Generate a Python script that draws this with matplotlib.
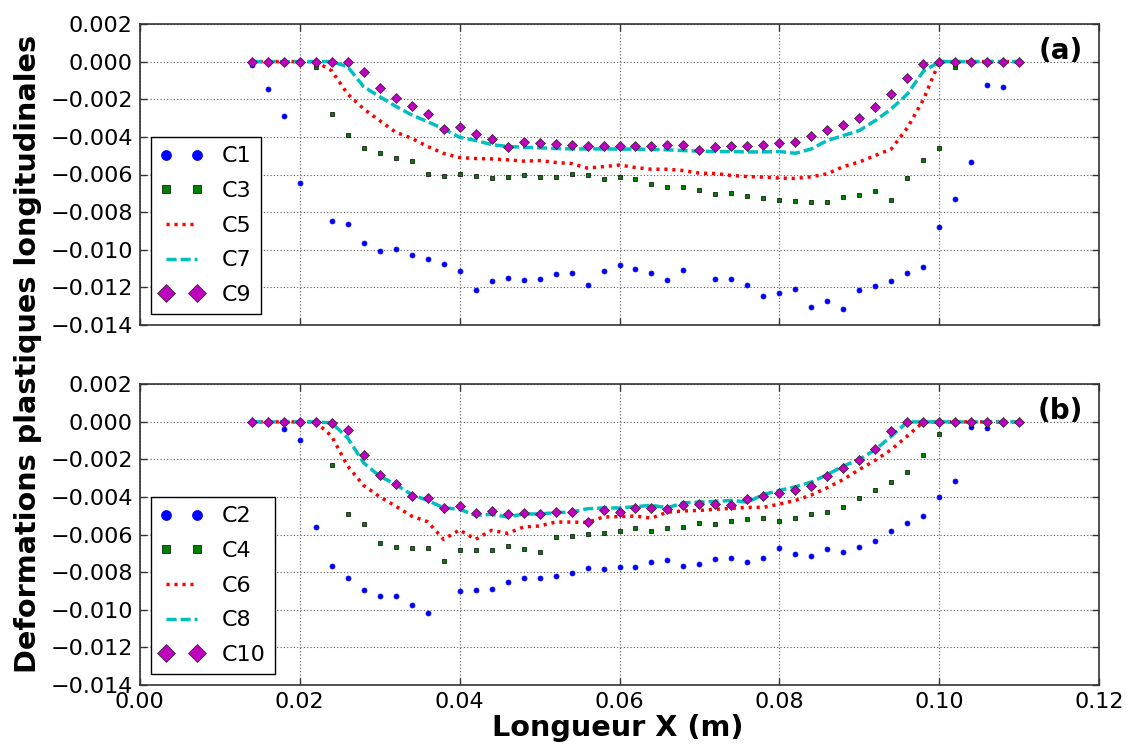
import numpy as np
import matplotlib
matplotlib.use("Agg")
import matplotlib.pyplot as plt

nan = np.nan

# Positions along the specimen (m)
x = [0.014, 0.016, 0.018, 0.020, 0.022, 0.024, 0.026, 0.028, 0.030, 0.032,
     0.034, 0.036, 0.038, 0.040, 0.042, 0.044, 0.046, 0.048, 0.050, 0.052,
     0.054, 0.056, 0.058, 0.060, 0.062, 0.064, 0.066, 0.068, 0.070, 0.072,
     0.074, 0.076, 0.078, 0.080, 0.082, 0.084, 0.086, 0.088, 0.090, 0.092,
     0.094, 0.096, 0.098, 0.100, 0.102, 0.104, 0.106, 0.108, 0.110]

# Panel (a)
C1 = [-0.00018, -0.00145, -0.00290, -0.00646, nan, -0.00848, -0.00865, -0.00966, -0.01007, -0.00998,
      -0.01028, -0.01050, -0.01076, -0.01115, -0.01212, -0.01168, -0.01150, -0.01159, -0.01156, -0.01129,
      -0.01124, -0.01186, -0.01112, -0.01080, -0.01103, -0.01124, -0.01159, -0.01106, nan, -0.01156,
      -0.01156, -0.01186, -0.01244, -0.01230, -0.01209, -0.01304, -0.01274, -0.01313, -0.01212, -0.01191,
      -0.01168, -0.01126, -0.01090, -0.00880, -0.00729, -0.00533, -0.00124, -0.00136, nan]
C3 = [0.0, 0.0, 0.0, 0.0, -0.00030, -0.00276, -0.00391, -0.00460, -0.00488, -0.00513,
      -0.00527, -0.00598, -0.00607, -0.00598, -0.00607, -0.00619, -0.00611, -0.00605, -0.00614, -0.00614,
      -0.00598, -0.00605, -0.00623, -0.00611, -0.00623, -0.00650, -0.00664, -0.00667, -0.00685, -0.00703,
      -0.00699, -0.00715, -0.00724, -0.00733, -0.00742, -0.00747, -0.00747, -0.00720, -0.00708, -0.00690,
      -0.00738, -0.00619, -0.00522, -0.00458, -0.00030, 0.0, 0.0, 0.0, 0.0]
C5 = [0.0, 0.0, 0.0, 0.0, 0.0, -0.00048, -0.00172, -0.00251, -0.00313, -0.00375,
      -0.00407, -0.00451, -0.00488, -0.00510, -0.00515, -0.00517, -0.00522, -0.00529, -0.00526, -0.00536,
      -0.00542, -0.00566, -0.00558, -0.00550, -0.00563, -0.00572, -0.00572, -0.00579, -0.00593, -0.00595,
      -0.00605, -0.00611, -0.00614, -0.00619, -0.00621, -0.00612, -0.00596, -0.00558, -0.00533, -0.00499,
      -0.00464, -0.00352, -0.00202, 0.0, 0.0, 0.0, 0.0, 0.0, 0.0]
C7 = [0.0, 0.0, 0.0, 0.0, 0.0, 0.0, -0.00027, -0.00133, -0.00186, -0.00237,
      -0.00283, -0.00319, -0.00358, -0.00402, -0.00419, -0.00441, -0.00451, -0.00455, -0.00458, -0.00462,
      -0.00464, -0.00464, -0.00464, -0.00465, -0.00465, -0.00467, -0.00469, -0.00473, -0.00476, -0.00478,
      -0.00478, -0.00480, -0.00480, -0.00478, -0.00487, -0.00464, -0.00419, -0.00393, -0.00366, -0.00313,
      -0.00251, -0.00172, -0.00051, 0.0, 0.0, 0.0, 0.0, 0.0, 0.0]
C9 = [0.0, 0.0, 0.0, 0.0, 0.0, 0.0, 0.0, -0.00053, -0.00142, -0.00193,
      -0.00237, -0.00281, -0.00356, -0.00350, -0.00386, -0.00412, -0.00453, -0.00425, -0.00435, -0.00439,
      -0.00442, -0.00448, -0.00448, -0.00448, -0.00448, -0.00448, -0.00442, -0.00442, -0.00469, -0.00453,
      -0.00448, -0.00448, -0.00444, -0.00434, -0.00425, -0.00396, -0.00365, -0.00335, -0.00299, -0.00242,
      -0.00172, -0.00085, -0.00014, 0.0, 0.0, 0.0, 0.0, 0.0, 0.0]

# Panel (b)
C2 = [0.0, 0.0, -0.00037, -0.00097, -0.00559, -0.00765, -0.00832, -0.00896, -0.00927, -0.00927,
      -0.00975, -0.01016, nan, -0.00901, -0.00892, -0.00888, -0.00853, -0.00832, -0.00832, -0.00818,
      -0.00804, -0.00779, -0.00782, -0.00770, -0.00770, -0.00747, -0.00735, -0.00765, -0.00756, -0.00731,
      -0.00722, -0.00747, -0.00722, -0.00669, -0.00704, -0.00712, -0.00678, -0.00690, -0.00664, -0.00634,
      -0.00582, -0.00538, -0.00503, -0.00398, -0.00317, -0.00027, -0.00030, 0.0, 0.0]
C4 = [0.0, 0.0, 0.0, 0.0, 0.0, -0.00230, -0.00488, -0.00542, -0.00642, -0.00667,
      -0.00673, -0.00673, -0.00738, -0.00681, -0.00681, -0.00681, -0.00662, -0.00676, -0.00694, -0.00614,
      -0.00605, -0.00598, -0.00593, -0.00581, -0.00566, -0.00581, -0.00566, -0.00561, -0.00540, -0.00543,
      -0.00527, -0.00517, -0.00510, -0.00527, -0.00510, -0.00488, -0.00480, -0.00453, -0.00405, -0.00365,
      -0.00320, -0.00264, -0.00177, -0.00065, 0.0, 0.0, 0.0, 0.0, 0.0]
C6 = [0.0, 0.0, 0.0, 0.0, 0.0, -0.00076, -0.00235, -0.00338, -0.00398, -0.00448,
      -0.00501, -0.00531, -0.00625, -0.00575, -0.00625, -0.00577, -0.00593, -0.00559, -0.00554, -0.00533,
      -0.00533, -0.00535, -0.00506, -0.00504, -0.00501, -0.00512, -0.00480, -0.00474, -0.00471, -0.00465,
      -0.00460, -0.00455, -0.00455, -0.00437, -0.00418, -0.00389, -0.00350, -0.00306, -0.00253, -0.00204,
      -0.00147, -0.00075, 0.0, 0.0, 0.0, 0.0, 0.0, 0.0, 0.0]
C8 = [0.0, 0.0, 0.0, 0.0, 0.0, -0.00005, -0.00085, -0.00218, -0.00288, -0.00333,
      -0.00386, -0.00418, -0.00457, -0.00465, -0.00497, -0.00492, -0.00506, -0.00490, -0.00490, -0.00483,
      -0.00480, -0.00462, -0.00458, -0.00458, -0.00451, -0.00444, -0.00457, -0.00430, -0.00427, -0.00423,
      -0.00418, -0.00427, -0.00386, -0.00365, -0.00345, -0.00320, -0.00280, -0.00235, -0.00200, -0.00147,
      -0.00076, 0.0, 0.0, 0.0, 0.0, 0.0, 0.0, 0.0, 0.0]
C10 = [0.0, 0.0, 0.0, 0.0, 0.0, -0.00005, -0.00044, -0.00177, -0.00281, -0.00331,
       -0.00396, -0.00405, -0.00457, -0.00448, -0.00485, -0.00476, -0.00488, -0.00483, -0.00488, -0.00480,
       -0.00480, -0.00533, -0.00469, -0.00478, -0.00460, -0.00457, -0.00465, -0.00442, -0.00437, -0.00435,
       -0.00441, -0.00409, -0.00395, -0.00379, -0.00365, -0.00343, -0.00287, -0.00246, -0.00204, -0.00145,
       -0.00048, 0.0, 0.0, 0.0, 0.0, 0.0, 0.0, 0.0, 0.0]

xticks = [0.00, 0.02, 0.04, 0.06, 0.08, 0.10, 0.12]
yticks = [-0.014, -0.012, -0.010, -0.008, -0.006, -0.004, -0.002, 0.000, 0.002]

plt.rcParams['font.family'] = ['DejaVu Sans']
plt.rcParams['axes.unicode_minus'] = True

W, H = 1128, 747
fig = plt.figure(figsize=(W / 100, H / 100), dpi=100)
fig.patch.set_facecolor('white')

L, R = 139.7, 1099.3
ax_a = fig.add_axes([L / W, 1 - 325 / H, (R - L) / W, (325 - 24) / H])
ax_b = fig.add_axes([L / W, 1 - 685 / H, (R - L) / W, (685 - 384.3) / H])

dot_style = (0, (0.9, 1.4))
dash_style = (0, (2.9, 1.15))


def draw(ax, series, labels, tag, show_xlabels):
    s_circ, s_sq, s_dot, s_dash, s_dia = series
    ax.plot(x, s_circ, linestyle='none', marker='o', ms=3.6, mfc='b', mec='b',
            mew=0.5, label=labels[0])
    ax.plot(x, s_sq, linestyle='none', marker='s', ms=3.0, mfc='g', mec='k',
            mew=0.5, label=labels[1])
    ax.plot(x, s_dot, linestyle=dot_style, color='r', lw=2.5, label=labels[2])
    ax.plot(x, s_dash, linestyle=dash_style, color='c', lw=2.5, label=labels[3])
    ax.plot(x, s_dia, linestyle='none', marker='D', ms=4.6, mfc='m', mec='0.15',
            mew=0.5, label=labels[4])
    ax.set_xlim(0.0, 0.12)
    ax.set_ylim(-0.014, 0.002)
    ax.set_xticks(xticks)
    ax.set_yticks(yticks)
    ax.set_yticklabels(['%.3f' % v if v >= 0 else '\u2212%.3f' % abs(v) for v in yticks])
    if show_xlabels:
        ax.set_xticklabels(['%.2f' % v for v in xticks])
    else:
        ax.set_xticklabels([])
    ax.tick_params(direction='in', length=5, width=1, pad=5, labelsize=16,
                   top=True, right=True, color='0.2')
    ax.grid(True, color='0.35', linestyle=(0, (1, 2)), linewidth=0.8)
    for sp in ax.spines.values():
        sp.set_color('0.2')
        sp.set_linewidth(1.2)
    leg = ax.legend(loc='lower left', numpoints=2, markerscale=2, fontsize=16,
                    fancybox=False, framealpha=1, edgecolor='black',
                    borderpad=0.4, labelspacing=0.66, handlelength=2,
                    handletextpad=0.8, borderaxespad=0.5)
    leg.get_frame().set_linewidth(1.0)
    ax.text(0.983, 0.910, tag, transform=ax.transAxes, ha='right', va='center',
            fontsize=20, fontweight='bold')


draw(ax_a, [C1, C3, C5, C7, C9], ['C1', 'C3', 'C5', 'C7', 'C9'], '(a)', False)
draw(ax_b, [C2, C4, C6, C8, C10], ['C2', 'C4', 'C6', 'C8', 'C10'], '(b)', True)

fig.text(618 / W, 1 - 728 / H, 'Longueur X (m)', ha='center', va='center',
         fontsize=20.7, fontweight='bold')
fig.text(28.4 / W, 1 - 353.5 / H, 'Deformations plastiques longitudinales',
         rotation=90, ha='center', va='center', fontsize=20.7, fontweight='bold')

fig.savefig('out.png', dpi=100, facecolor='white')
